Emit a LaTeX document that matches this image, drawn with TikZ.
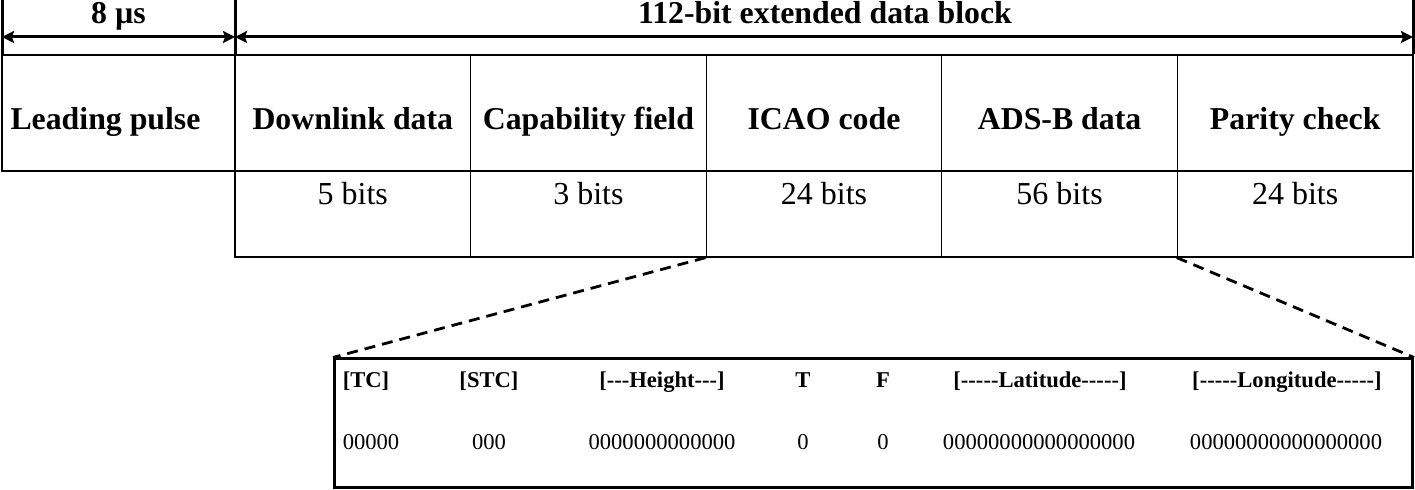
\documentclass[tikz,border=0pt]{standalone}
\usepackage{fontspec}
\setmainfont{Liberation Serif}
\usetikzlibrary{arrows.meta}

\begin{document}
\begin{tikzpicture}[x=0.5pt,y=-0.5pt,fieldfont/.style={font=\fontsize{15.9}{18}\selectfont\bfseries,inner sep=0pt,text height=17pt,text depth=0pt},field/.style={draw,line width=0.65pt,minimum width=117.8pt,minimum height=58pt,fieldfont},bitcell/.style={draw,line width=0.65pt,minimum width=117.8pt,minimum height=43pt,inner sep=0pt},bitlabel/.style={font=\fontsize{16}{18}\selectfont,anchor=base,inner sep=0pt,yshift=-17pt},spanlabel/.style={font=\fontsize{15.9}{18}\selectfont\bfseries,inner sep=0pt,anchor=base,text height=11.4pt},span/.style={line width=1.5pt,{Stealth[length=6pt,width=6pt,inset=1pt]}-{Stealth[length=6pt,width=6pt,inset=1pt]}},tickline/.style={line width=1.5pt},zoomline/.style={line width=1.4pt,dash pattern=on 5.5pt off 3.5pt},subhead/.style={font=\fontsize{11.3}{13}\selectfont\bfseries,inner sep=0pt,anchor=base},subval/.style={font=\fontsize{11.3}{13}\selectfont,inner sep=0pt,anchor=base}]
\useasboundingbox (0,0) rectangle (1415,490);
\coordinate (T0) at (2,0);
\coordinate (T1) at (235,0);
\coordinate (T2) at (1413,0);
\coordinate (B0) at (2,54);
\coordinate (B1) at (235,54);
\coordinate (B2) at (1413,54);
\coordinate (A0) at (2,37);
\coordinate (A1) at (235,37);
\coordinate (A2) at (1413,37);
\draw[tickline] (T0) -- (B0);
\draw[tickline] (T1) -- (B1);
\draw[tickline] (T2) -- (B2);
\draw[span] (A0) -- (A1);
\draw[span] (A1) -- (A2);
\node[spanlabel] (pulselen) at (118.5,24) {8 µs};
\node[spanlabel] (blocklen) at (825,24) {112-bit extended data block};
\node[field,minimum width=116.5pt] (leadbox) at (118.5,113) {};
\node[fieldfont] at ([xshift=-6.5pt]leadbox.center) {Leading pulse};
\node[field] (dlbox) at (352.8,113) {Downlink data};
\node[field] (capbox) at (588.4,113) {Capability field};
\node[field] (icaobox) at (824,113) {ICAO code};
\node[field] (adsbbox) at (1059.6,113) {ADS-B data};
\node[field] (paritybox) at (1295.2,113) {Parity check};
\node[bitcell] (dlbits) at (352.8,214) {};
\node[bitcell] (capbits) at (588.4,214) {};
\node[bitcell] (icaobits) at (824,214) {};
\node[bitcell] (adsbbits) at (1059.6,214) {};
\node[bitcell] (paritybits) at (1295.2,214) {};
\node[bitlabel] at (dlbits.north) {5 bits};
\node[bitlabel] at (capbits.north) {3 bits};
\node[bitlabel] at (icaobits.north) {24 bits};
\node[bitlabel] at (adsbbits.north) {56 bits};
\node[bitlabel] at (paritybits.north) {24 bits};
\node[draw,line width=1.5pt,minimum width=539pt,minimum height=64.5pt,inner sep=0pt] (detail) at (873.5,423.5) {};
\draw[zoomline] (icaobits.south west) -- (detail.north west);
\draw[zoomline] (paritybits.south west) -- (detail.north east);
\node[subhead] (tc) at (366,388) {[TC]};
\node[subhead] (stc) at (489,388) {[STC]};
\node[subhead] (height) at (662,388) {[{-}{-}{-}Height{-}{-}{-}]};
\node[subhead] (tflag) at (803,388) {T};
\node[subhead] (fflag) at (883,388) {F};
\node[subhead] (lat) at (1040,388) {[{-}{-}{-}{-}{-}Latitude{-}{-}{-}{-}{-}]};
\node[subhead] (lon) at (1287,388) {[{-}{-}{-}{-}{-}Longitude{-}{-}{-}{-}{-}]};
\node[subval] (tcval) at (371,450) {00000};
\node[subval] (stcval) at (489,450) {000};
\node[subval] (heightval) at (662,450) {0000000000000};
\node[subval] (tval) at (803,450) {0};
\node[subval] (fval) at (883,450) {0};
\node[subval] (latval) at (1039,450) {00000000000000000};
\node[subval] (lonval) at (1286,450) {00000000000000000};
\end{tikzpicture}
\end{document}
